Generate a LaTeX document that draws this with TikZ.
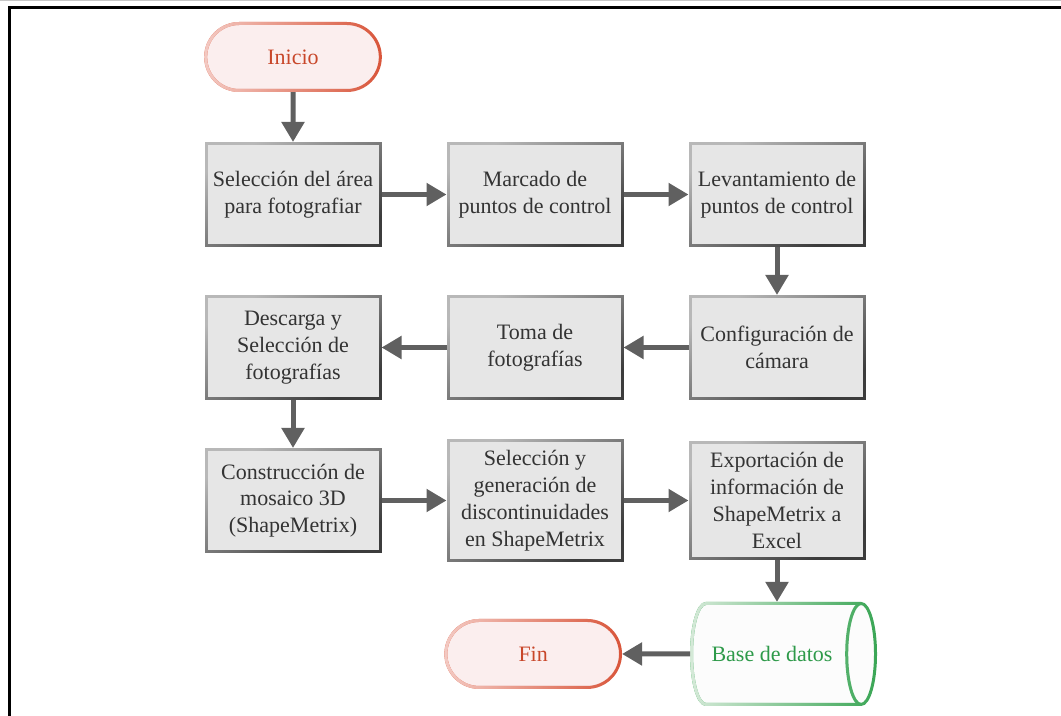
\documentclass[tikz,border=0pt]{standalone}
\usepackage{fontspec}
\setmainfont{Liberation Serif}
\usepackage{tikz}
\usetikzlibrary{arrows.meta,positioning,fadings,shapes.misc,shapes.geometric}
\definecolor{cajafondo}{HTML}{E6E6E6}
\definecolor{cajaborde}{HTML}{3C3C3C}
\definecolor{cajaclaro}{HTML}{B8B8B8}
\definecolor{texto}{HTML}{333333}
\definecolor{flecha}{HTML}{606060}
\definecolor{rojofondo}{HTML}{FBEEEE}
\definecolor{rojoborde}{HTML}{D9553A}
\definecolor{rojoclaro}{HTML}{F4CAC3}
\definecolor{rojotexto}{HTML}{C8472A}
\definecolor{verdeborde}{HTML}{3AA655}
\definecolor{verdeclaro}{HTML}{D6EAD9}
\definecolor{verdetexto}{HTML}{2E9A4A}
\tikzfading[name=desvanece, left color=transparent!0, right color=transparent!100]
\tikzset{
    font=\fontsize{11}{13.4}\selectfont,
    %Define style for boxes
    caja/.style={
           rectangle,
           fill=cajafondo,
           draw=cajaborde, line width=1.5pt,
           text=texto,
           inner ysep=5pt,
           minimum width=87pt,
           minimum height=51pt,
           align=center,
           postaction={draw=cajaclaro, line width=1.5pt, path fading=desvanece, fading angle=-45}},
    % Define style for start and end
    terminal/.style={
           rounded rectangle,
           fill=rojofondo,
           draw=rojoborde, line width=1.5pt,
           text=rojotexto,
           minimum width=94pt,
           minimum height=33.5pt,
           postaction={draw=rojoclaro, line width=1.5pt, path fading=desvanece}},
    % Define style for the database
    basedatos/.style={
           cylinder, shape aspect=1,
           fill=white!99!black,
           draw=verdeborde, line width=1.5pt,
           text=verdetexto,
           minimum height=92pt,
           minimum width=50.5pt,
           postaction={draw=verdeclaro, line width=1.5pt, path fading=desvanece}},
    % Define arrow style
    pil/.style={
	   -{Triangle[length=10pt,width=11pt]},
	   color=flecha,
           line width=2.5pt}
}

\begin{document}
\begin{tikzpicture}[node distance=24pt and 32.5pt]
  \useasboundingbox (0,0) rectangle (530.5pt,-358pt);
  \draw[gray!45, line width=0.6pt] (0,-0.3pt) -- (530.5pt,-0.3pt);
  \draw[line width=1.5pt] (4.5pt,-358pt) -- (4.5pt,-4pt) -- (530.5pt,-4pt);
  \node[terminal] (ini) at (146.5pt,-28.5pt) {Inicio};
  \node[caja] (b1) [below=25pt of ini] {Selección del área\\para fotografiar};
  \node[caja] (b2) [right=of b1] {Marcado de\\puntos de control};
  \node[caja] (b3) [right=of b2] {Levantamiento de\\puntos de control};
  \node[caja] (b4) [below=of b3] {Configuración de\\cámara};
  \node[caja] (b5) [left=of b4] {Toma de\\fotografías};
  \node[caja] (b6) [left=of b5] {Descarga y\\Selección de\\fotografías};
  \node[caja] (b7) [below=of b6] {Construcción de\\mosaico 3D\\(ShapeMetrix)};
  \node[caja] (b8) [right=of b7] {Selección y\\generación de\\discontinuidades\\en ShapeMetrix};
  \node[caja] (b9) [right=of b8] {Exportación de\\información de\\ShapeMetrix a\\Excel};
  \node[basedatos] (base) [below=21pt of b9, xshift=-2.5pt] {Base de datos};
  \node[terminal] (fin) [left=34pt of base] {Fin};
  \path[pil]
    (ini) edge (b1)
    (b1) edge (b2)
    (b2) edge (b3)
    (b3) edge (b4)
    (b4) edge (b5)
    (b5) edge (b6)
    (b6) edge (b7)
    (b7) edge (b8)
    (b8) edge (b9)
    (b9.south) edge (b9.south |- base.north)
    (base) edge (fin);
\end{tikzpicture}
\end{document}
